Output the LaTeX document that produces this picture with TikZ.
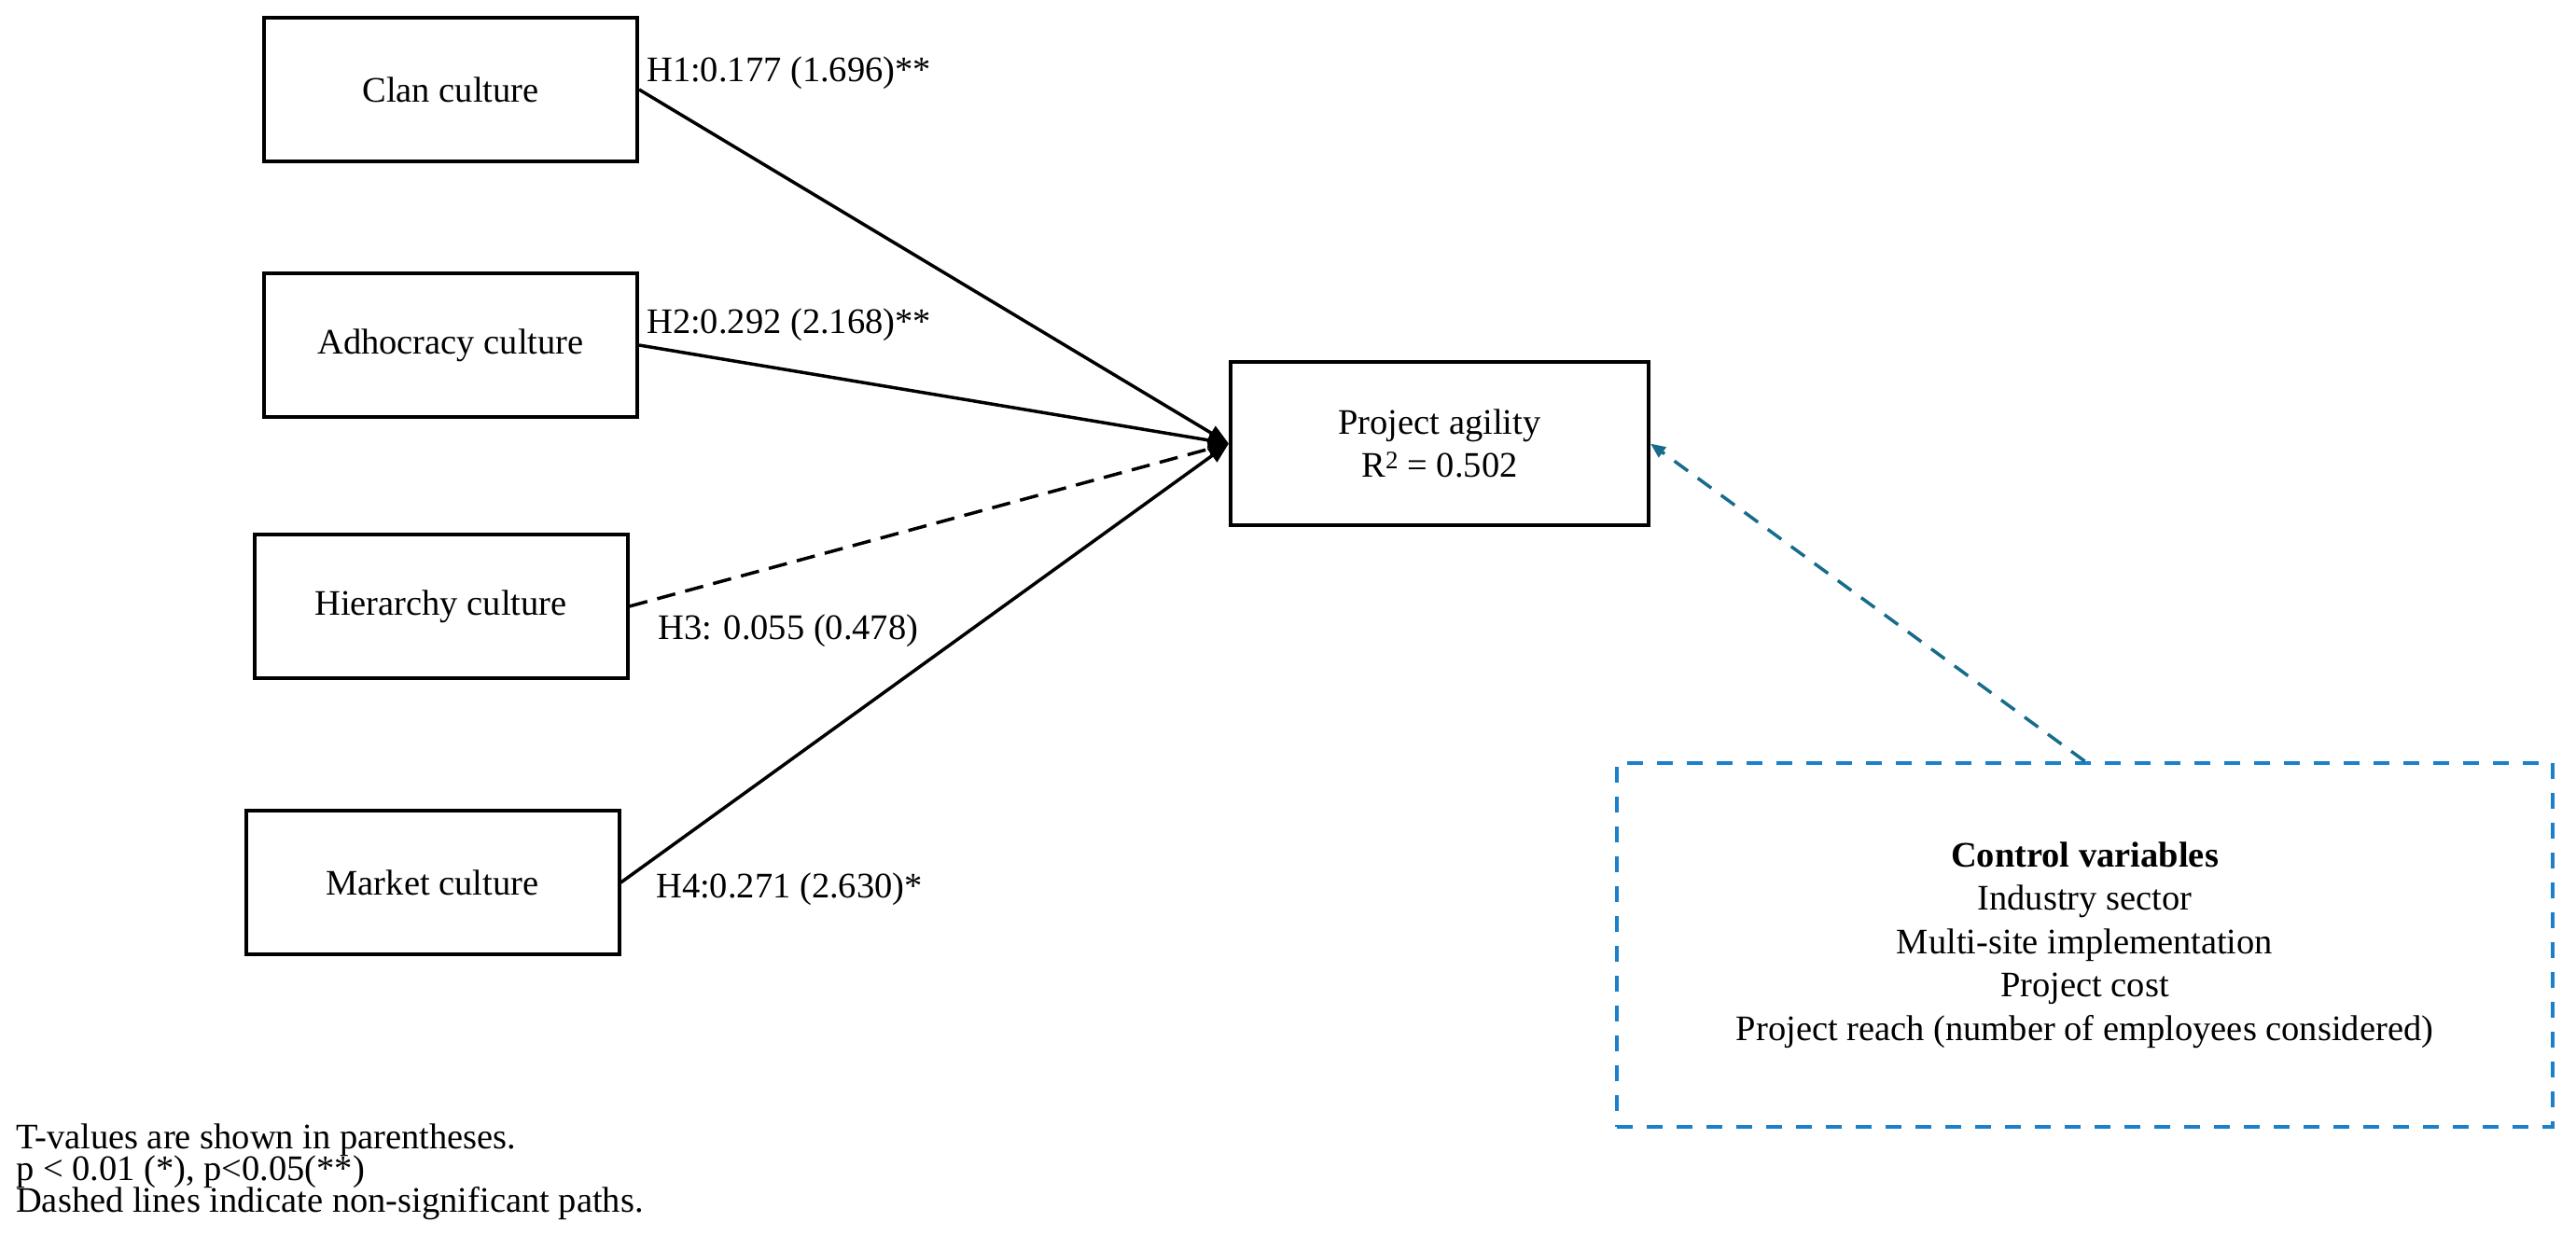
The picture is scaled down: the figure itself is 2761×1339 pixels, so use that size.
\documentclass[tikz,border=0pt]{standalone}
\usepackage{fontspec}
\setmainfont{Liberation Serif}
\usetikzlibrary{arrows.meta}
\definecolor{ctrlblue}{RGB}{26,128,204}
\definecolor{ctrlteal}{RGB}{22,108,138}
\begin{document}
\begin{tikzpicture}[x=1pt,y=-1pt,
  txt/.style={font=\fontsize{38.5}{46.5}\selectfont},
  box/.style={txt, draw=black, line width=4pt, minimum width=400pt, minimum height=154pt, inner sep=0pt, align=center},
  lbl/.style={txt, anchor=base west, inner sep=0pt},
  conn/.style={line width=3.5pt, -{Triangle[length=22pt,width=17pt]}},
  nonsig/.style={conn, dash pattern=on 20pt off 11pt},
  ctrlarrow/.style={draw=ctrlteal, line width=3.5pt, dash pattern=on 18pt off 13pt, -{Triangle[length=16pt,width=13pt]}},
  ctrlbox/.style={txt, draw=ctrlblue, line width=4pt, dash pattern=on 17pt off 15pt, minimum width=1003pt, minimum height=390pt, inner sep=0pt, align=center},
  note/.style={font={\fontsize{38.5}{34}\selectfont\lineskiplimit=-100pt}, align=left, anchor=north west, inner sep=0pt}
]
\useasboundingbox (0,0) rectangle (2761,1339);

\node[box] (clan) at (483,96) {Clan culture};
\node[box] (adho) at (483,370) {Adhocracy culture};
\node[box] (hier) at (472.5,650) {Hierarchy culture};
\node[box] (mark) at (463.5,946) {Market culture};

\node[box, minimum width=448pt, minimum height=175pt] (pa) at (1543,475.5) {Project agility\\R\textsuperscript{2} = 0.502};

\node[ctrlbox] (ctrl) at (2234.5,1013) {\textbf{Control variables}\\Industry sector\\Multi-site implementation\\Project cost\\Project reach (number of employees considered)};

\draw[conn] (clan.east) -- (pa.west);
\draw[conn] (adho.east) -- (pa.west);
\draw[nonsig] (hier.east) -- (pa.west);
\draw[conn] (mark.east) -- (pa.west);

\draw[ctrlarrow] (ctrl.north) -- (pa.east);

\node[lbl] (h1) at (693,87) {H1:0.177 (1.696)**};
\node[lbl] (h2) at (693,357) {H2:0.292 (2.168)**};
\node[lbl] (h3) at (705,685) {H3: 0.055 (0.478)};
\node[lbl] (h4) at (703,962) {H4:0.271 (2.630)*};

\node[note] (notes) at (17,1205) {T-values are shown in parentheses.\\p {\textless} 0.01 (*), p{\textless}0.05(**)\\Dashed lines indicate non-significant paths.};
\end{tikzpicture}
\end{document}
